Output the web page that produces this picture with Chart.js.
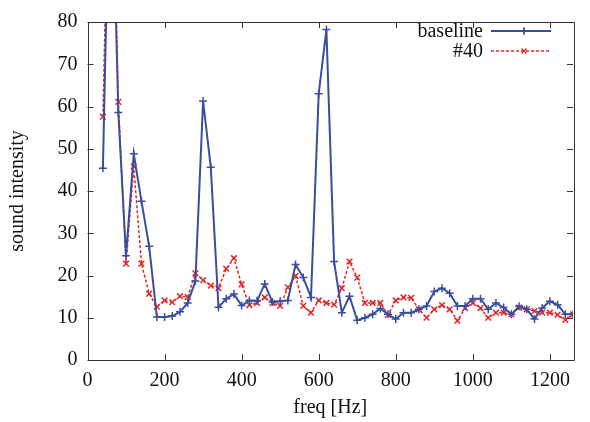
<!DOCTYPE html>
<html>
<head>
<meta charset="utf-8">
<script src="https://cdn.jsdelivr.net/npm/chart.js@4/dist/chart.umd.min.js"></script>
<style>
html,body{margin:0;padding:0;background:#fff;}
#wrap{width:590px;height:422px;position:relative;}
</style>
</head>
<body>
<div id="wrap"><canvas id="c" width="590" height="422"></canvas></div>
<script>
// ---- data ----
const freqs = [40,60,80,100,120,140,160,180,200,220,240,260,280,300,320,340,360,380,400,420,
  440,460,480,500,520,540,560,580,600,620,640,660,680,700,720,740,760,780,800,820,
  840,860,880,900,920,940,960,980,1000,1020,1040,1060,1080,1100,1120,1140,1160,1180,1200,1220,
  1240,1260];
const baseline = [45.4,130,58.6,24.7,48.8,37.6,26.9,10.2,10.2,10.4,11.4,13.5,18.7,61.3,45.6,12.5,14.5,15.6,12.9,14.1,
  14.0,18.0,13.7,13.9,14.1,22.6,19.5,14.8,63.0,78.2,23.3,11.2,15.1,9.4,10.0,10.8,12.2,10.8,9.7,11.2,
  11.2,12.0,12.8,16.2,17.0,15.8,12.8,12.8,14.5,14.5,12.0,13.5,12.4,10.8,12.7,12.0,9.7,12.3,13.9,13.1,
  10.8,10.8];
const run40 = [57.6,140,61.1,22.8,45.8,22.8,15.7,12.6,14.1,13.7,15.1,14.9,20.5,18.9,17.6,17.0,21.6,24.1,17.9,13.0,
  13.5,14.8,13.5,12.8,17.2,19.9,12.8,11.2,14.1,13.5,13.1,17.0,23.3,19.5,13.5,13.5,13.5,10.7,14.1,14.8,
  14.7,12.0,10.0,12.0,13.0,12.0,9.3,12.3,13.5,12.3,10.0,11.2,11.2,10.8,12.4,12.0,11.6,11.2,11.2,10.7,
  9.5,10.8];
const seriesNames = ["baseline", "#40"];
const xTicks = [0,200,400,600,800,1000,1200];
const yTicks = [0,10,20,30,40,50,60,70,80];

const BLUE = 'rgb(58,78,160)';
const RED = 'rgb(226,38,40)';
const FONT = "'Liberation Serif', 'DejaVu Serif', serif";

const toPts = (ys) => freqs.map((f, i) => ({x: f, y: ys[i]}));

const frame = {
  id: 'frame',
  afterDatasetsDraw(chart) {
    const ctx = chart.ctx, a = chart.chartArea;
    const xs = chart.scales.x, ys = chart.scales.y;
    ctx.save();
    ctx.strokeStyle = '#333';
    ctx.lineWidth = 1;
    ctx.beginPath();
    ctx.rect(Math.round(a.left) + 0.5, Math.round(a.top) + 0.5, Math.round(a.right - a.left), Math.round(a.bottom - a.top));
    ctx.stroke();
    const L = 6;
    ctx.beginPath();
    xTicks.forEach(v => {
      const px = Math.round(xs.getPixelForValue(v)) + 0.5;
      ctx.moveTo(px, a.bottom); ctx.lineTo(px, a.bottom - L);
      ctx.moveTo(px, a.top); ctx.lineTo(px, a.top + L);
    });
    yTicks.forEach(v => {
      const py = Math.round(ys.getPixelForValue(v)) + 0.5;
      ctx.moveTo(a.left, py); ctx.lineTo(a.left + L, py);
      ctx.moveTo(a.right, py); ctx.lineTo(a.right - L, py);
    });
    ctx.stroke();

    // legend (inside plot, top right)
    const rows = [
      {label: seriesNames[0], color: BLUE, dash: [], style: 'cross', lw: 1.8},
      {label: seriesNames[1], color: RED, dash: [3, 2], style: 'crossRot', lw: 1.3}
    ];
    ctx.font = "20px " + FONT;
    ctx.textAlign = 'right';
    ctx.textBaseline = 'middle';
    rows.forEach((r, i) => {
      const y = 31 + i * 20;
      ctx.fillStyle = '#111';
      ctx.fillText(r.label, 483, y + 1);
      ctx.strokeStyle = r.color;
      ctx.lineWidth = r.lw;
      ctx.setLineDash(r.dash);
      ctx.beginPath();
      ctx.moveTo(491, y); ctx.lineTo(551, y);
      ctx.stroke();
      ctx.setLineDash([]);
      Chart.helpers.drawPoint(ctx, {pointStyle: r.style, radius: 3.5, borderWidth: 1.5}, 524, y);
    });
    ctx.restore();
  }
};

new Chart(document.getElementById('c'), {
  type: 'line',
  data: {
    datasets: [
      {
        label: seriesNames[0],
        data: toPts(baseline),
        borderColor: BLUE,
        backgroundColor: BLUE,
        borderWidth: 2,
        pointStyle: 'cross',
        pointRadius: 4,
        pointBorderWidth: 1.5,
        pointBorderColor: BLUE,
        tension: 0
      },
      {
        label: seriesNames[1],
        data: toPts(run40),
        borderColor: RED,
        backgroundColor: RED,
        borderWidth: 1.5,
        borderDash: [3, 2],
        pointStyle: 'crossRot',
        pointRadius: 4,
        pointBorderWidth: 1.5,
        pointBorderColor: RED,
        tension: 0
      }
    ]
  },
  options: {
    responsive: false,
    animation: false,
    devicePixelRatio: 1,
    layout: {padding: {left: 0, right: 17, top: 15, bottom: 0}},
    plugins: {legend: {display: false}, tooltip: {enabled: false}},
    scales: {
      x: {
        type: 'linear',
        min: 0, max: 1260,
        afterBuildTicks: (s) => { s.ticks = xTicks.map(v => ({value: v})); },
        afterFit: (s) => { s.height = 62; },
        grid: {display: false, drawTicks: false},
        border: {display: false},
        ticks: {color: '#111', font: {family: FONT, size: 20}, padding: 9, maxRotation: 0, autoSkip: false,
                callback: (v) => String(v)},
        title: {display: true, text: 'freq [Hz]', color: '#111', font: {family: FONT, size: 20}, padding: {top: 0, bottom: 2}}
      },
      y: {
        type: 'linear',
        min: 0, max: 80,
        afterBuildTicks: (s) => { s.ticks = yTicks.map(v => ({value: v})); },
        afterFit: (s) => { s.width = 87.5; },
        grid: {display: false, drawTicks: false},
        border: {display: false},
        ticks: {color: '#111', font: {family: FONT, size: 20}, padding: 10, callback: (v) => String(v)},
        title: {display: true, text: 'sound intensity', color: '#111', font: {family: FONT, size: 20}, padding: {top: 6, bottom: 0}}
      }
    }
  },
  plugins: [frame]
});
</script>
</body>
</html>
